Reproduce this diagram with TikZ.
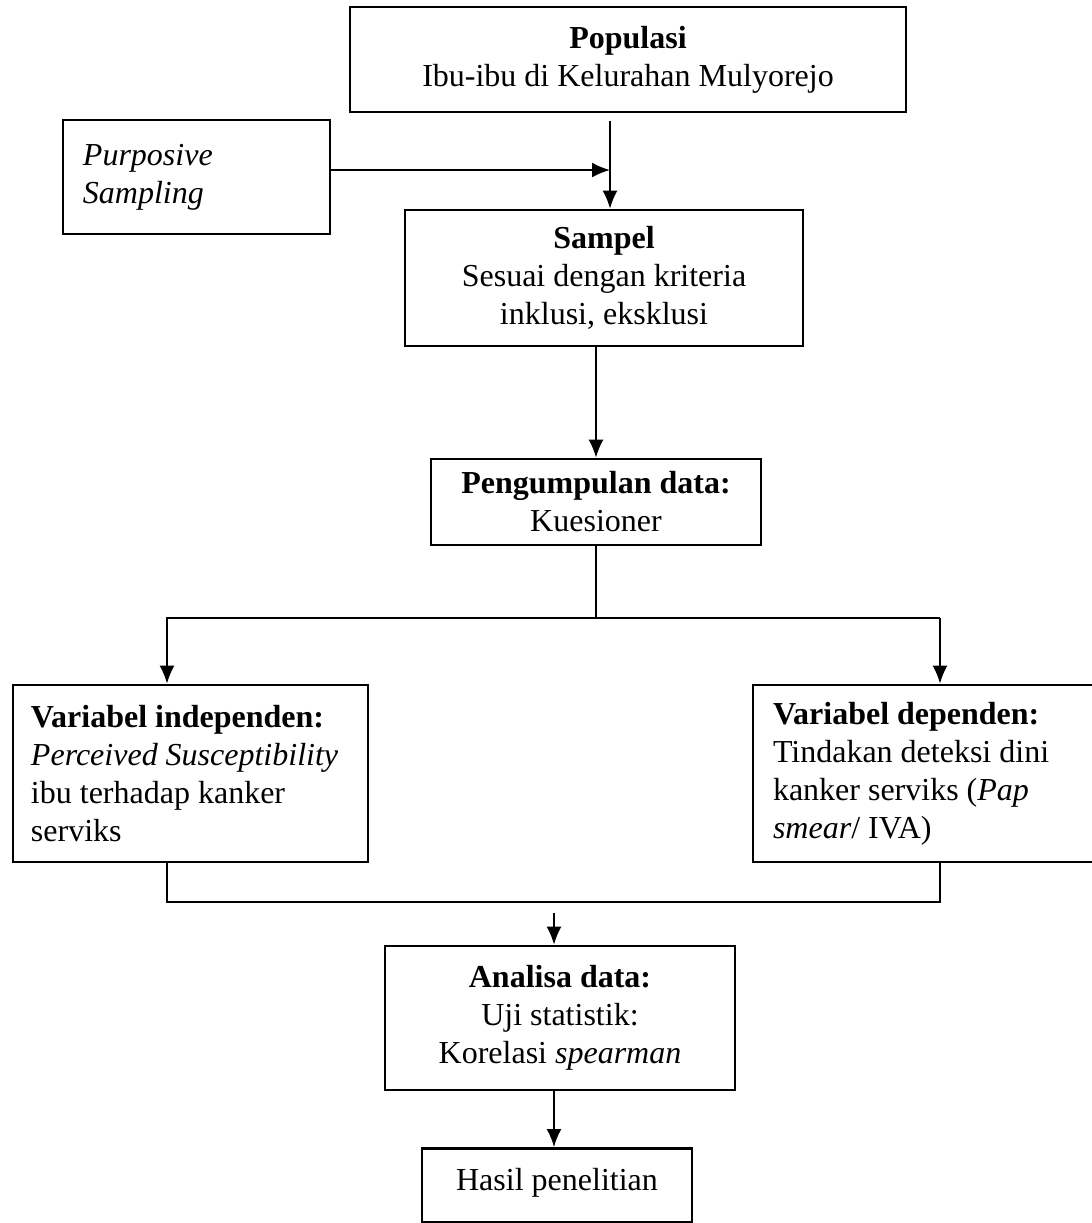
\documentclass[tikz,border=0pt]{standalone}
\usepackage{fontspec}
\setmainfont{Liberation Serif}
\usetikzlibrary{arrows.meta,positioning}
\tikzstyle{box}=[draw,line width=1.4pt,inner xsep=10pt,font=\fontsize{16}{19}\selectfont]
\tikzstyle{lbox}=[box,align=left,execute at begin node={\spaceskip=0pt\xspaceskip=0pt}]
\tikzstyle{flow}=[->,>={Latex[length=9pt,width=7.5pt]},line width=0.9pt]
\tikzstyle{wire}=[-,line width=0.9pt]

\begin{document}
\begin{tikzpicture}[x=0.5pt,y=-0.5pt]
        \useasboundingbox (0,0) rectangle (1092,1223);
        \node [box,align=center,minimum width=278pt,minimum height=52.5pt] (pop) at (628,59.5) {\textbf{Populasi}\\Ibu-ibu di Kelurahan Mulyorejo};
        \node [lbox,text width=113.5pt,minimum height=57pt] (purp) at (196.5,177) {\textit{Purposive}\\\textit{Sampling}};
        \node [box,align=center,minimum width=199pt,minimum height=68pt] (samp) at (604,278) {\textbf{Sampel}\\Sesuai dengan kriteria\\inklusi, eksklusi};
        \node [box,align=center,minimum width=165pt,minimum height=43pt] (peng) at (596,502) {\textbf{Pengumpulan data:}\\Kuesioner};
        \node [lbox,inner xsep=9pt,text width=159.5pt,minimum height=88.5pt] (indep) at (190.5,773.5) {\textbf{Variabel independen:}\\\textit{Perceived Susceptibility}\\ibu terhadap kanker\\serviks};
        \node [lbox,text width=152.5pt,minimum height=88.5pt] (dep) at (925.5,773.5) {\textbf{Variabel dependen:}\\Tindakan deteksi dini\\kanker serviks (\textit{Pap}\\\textit{smear}/ IVA)};
        \node [box,align=center,minimum width=175pt,minimum height=72pt] (ana) at (560,1018) {\textbf{Analisa data:}\\Uji statistik:\\Korelasi \textit{spearman}};
        \node [box,anchor=north,inner ysep=0pt,text height=21pt,text depth=16pt,minimum width=135pt] (hasil) at (557,1147) {Hasil penelitian};
        \coordinate (j) at (610,170);
        \coordinate (lt) at (167,618);
        \coordinate (rt) at (940,618);
        \coordinate (lb) at (167,902);
        \coordinate (rb) at (940,902);
        \coordinate (merge) at (554,902);
        \draw[flow,shorten <=4pt] (pop.south -| j) -- (samp.north -| j);
        \draw[flow] (purp.east |- j) -- (j);
        \draw[flow] (samp.south -| peng.north) -- (peng.north);
        \draw[wire] (peng.south) -- (peng.south |- lt);
        \draw[flow] (rt) -- (lt) -- (lt |- indep.north);
        \draw[flow] (rt) -- (rt |- dep.north);
        \draw[wire] (indep.south -| lb) -- (lb) -- (rb) -- (dep.south -| rb);
        \draw[flow,shorten <=5.5pt] (merge) -- (merge |- ana.north);
        \draw[flow] (ana.south -| merge) -- (hasil.north -| merge);
    \end{tikzpicture}
\end{document}
